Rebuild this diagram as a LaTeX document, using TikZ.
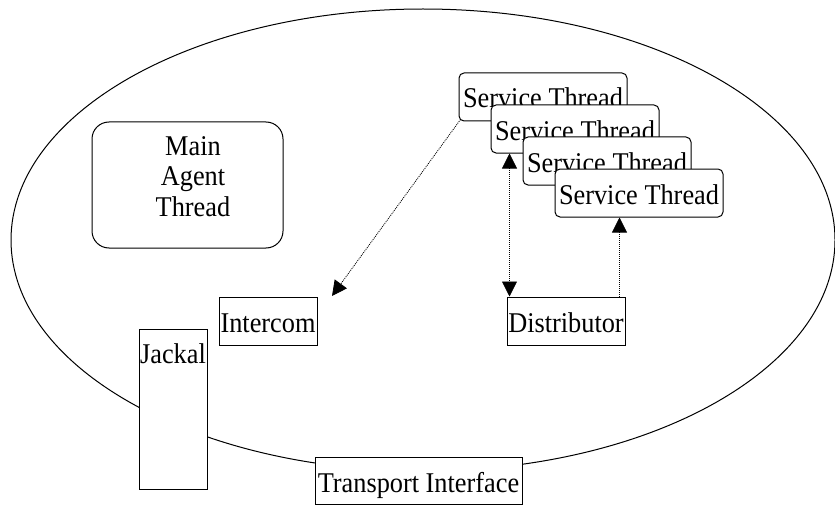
\documentclass[tikz,border=0pt]{standalone}
\usepackage{fontspec}
\setmainfont[FakeStretch=0.92]{Liberation Serif}
\usetikzlibrary{arrows.meta}

\begin{document}
\begin{tikzpicture}[x=1pt,y=-1pt,line width=1pt,
    font=\fontsize{28.6}{30.5}\selectfont,
    >={Triangle[length=15pt,width=15pt]},
    box/.style={draw,fill=white,inner sep=0pt,text height=35pt,text depth=13pt},
    thread/.style={box,rounded corners=5pt,minimum width=168pt},
    flow/.style={line width=0.8pt,dash pattern=on 1pt off 1pt}]
    \useasboundingbox (0,0) rectangle (835,508);
    % agent boundary
    \draw (423,240) ellipse [x radius=412, y radius=231];
    \node[draw,rounded corners=17pt,minimum width=191pt,inner sep=0pt,align=center,
        text height=94pt,text depth=32pt] (main) at (187.5,185)
        {\hspace*{11pt}Main\\\hspace*{11pt}Agent\\\hspace*{11pt}Thread};
    \foreach \i in {1,...,4}
        \node[thread] (st\i) at ({543+32*(\i-1)},{97+32*(\i-1)}) {Service Thread};
    \node[box,minimum width=98pt] (intercom) at (268,321) {Intercom};
    \node[box,minimum width=118pt] (distributor) at (566,321) {Distributor};
    \node[box,minimum width=68pt,text height=34pt,text depth=126pt] (jackal) at (173,409) {Jackal};
    \node[box,minimum width=207pt,text depth=12pt] (transport) at (418.5,480.5) {Transport Interface};
    % messages
    \coordinate (icomtip) at (332,296);
    \draw[flow,->] ([shift={(2,-2)}]st1.south west) -- (icomtip);
    \draw[flow,<->] ([xshift=19pt]st2.south west) -- ([xshift=3pt]distributor.north west);
    \draw[flow,->] ([xshift=-6pt]distributor.north east) -- ([xshift=-6pt]distributor.north east |- st4.south);
\end{tikzpicture}
\end{document}
